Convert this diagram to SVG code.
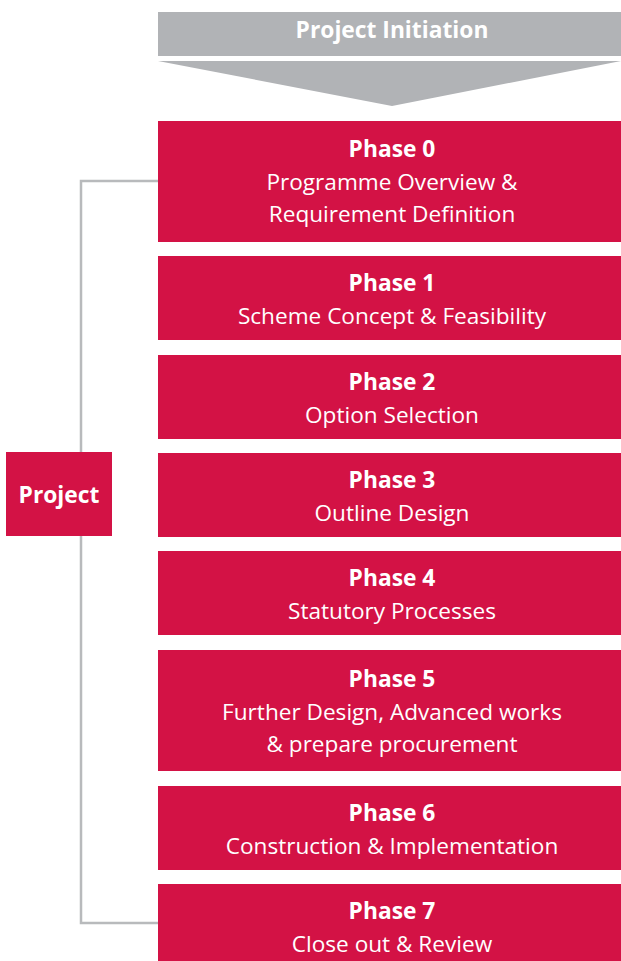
<svg xmlns="http://www.w3.org/2000/svg" width="621" height="961" viewBox="0 0 621 961">
<style>
.box{fill:#D31245}
.t{font-family:"Open Sans","Liberation Sans",sans-serif;fill:#fff;text-anchor:middle}
.b{font-weight:bold;font-size:22.8px}
.r{font-size:22.6px}
.conn{fill:none;stroke:#B8BABC;stroke-width:2.5}
</style>
<rect width="621" height="961" fill="#fff"/>
<g id="connectors">
<polyline class="conn" points="158,181 81,181 81,923 158,923"/>
</g>
<g id="initiation">
<rect x="158" y="12" width="463" height="44" fill="#B1B3B6"/>
<polygon points="158,61 621,61 392,106" fill="#B1B3B6"/>
<text class="t b" x="392" y="38">Project Initiation</text>
</g>
<g id="project">
<rect class="box" x="6" y="452" width="106" height="84"/>
<text class="t b" x="59" y="503">Project</text>
</g>
<g id="phase0">
<rect class="box" x="158" y="121" width="463" height="121"/>
<text class="t b" x="392" y="157">Phase 0</text>
<text class="t r" x="392" y="190">Programme Overview &amp;</text>
<text class="t r" x="392" y="222">Requirement Definition</text>
</g>
<g id="phase1">
<rect class="box" x="158" y="256" width="463" height="84"/>
<text class="t b" x="392" y="291">Phase 1</text>
<text class="t r" x="392" y="324">Scheme Concept &amp; Feasibility</text>
</g>
<g id="phase2">
<rect class="box" x="158" y="355" width="463" height="84"/>
<text class="t b" x="392" y="390">Phase 2</text>
<text class="t r" x="392" y="423">Option Selection</text>
</g>
<g id="phase3">
<rect class="box" x="158" y="453" width="463" height="84"/>
<text class="t b" x="392" y="488">Phase 3</text>
<text class="t r" x="392" y="521">Outline Design</text>
</g>
<g id="phase4">
<rect class="box" x="158" y="551" width="463" height="84"/>
<text class="t b" x="392" y="586">Phase 4</text>
<text class="t r" x="392" y="619">Statutory Processes</text>
</g>
<g id="phase5">
<rect class="box" x="158" y="650" width="463" height="121"/>
<text class="t b" x="392" y="687">Phase 5</text>
<text class="t r" x="392" y="720">Further Design, Advanced works</text>
<text class="t r" x="392" y="752">&amp; prepare procurement</text>
</g>
<g id="phase6">
<rect class="box" x="158" y="786" width="463" height="84"/>
<text class="t b" x="392" y="821">Phase 6</text>
<text class="t r" x="392" y="854">Construction &amp; Implementation</text>
</g>
<g id="phase7">
<rect class="box" x="158" y="884" width="463" height="84"/>
<text class="t b" x="392" y="919">Phase 7</text>
<text class="t r" x="392" y="952">Close out &amp; Review</text>
</g>
</svg>
